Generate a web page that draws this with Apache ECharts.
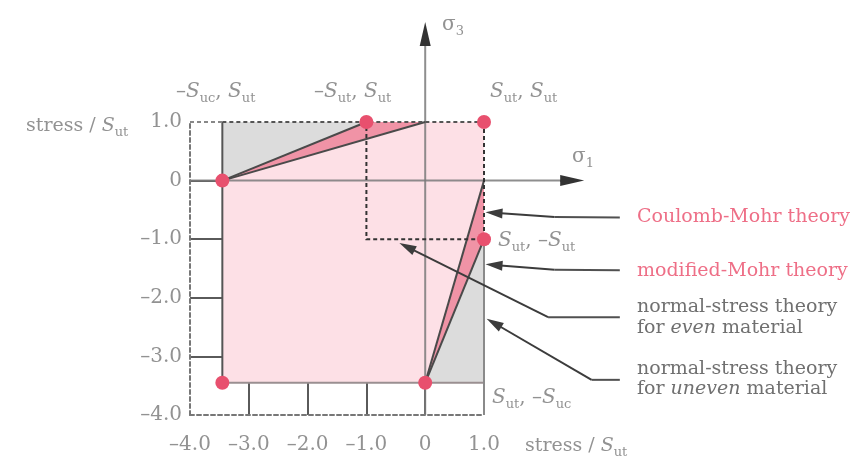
<!DOCTYPE html>
<html><head><meta charset="utf-8">
<script src="https://cdn.jsdelivr.net/npm/echarts@6/dist/echarts.min.js"></script>
<style>html,body{margin:0;padding:0;background:#fff}#c{width:864px;height:460px}</style>
</head><body><div id="c"></div>
<script>
// ---- data ----
const xTicks = [-4, -3, -2, -1, 0, 1];
const xTickLabels = ['–4.0', '–3.0', '–2.0', '–1.0', '0', '1.0'];
const yTicks = [-4, -3, -2, -1, 0, 1];
const yTickLabels = ['–4.0', '–3.0', '–2.0', '–1.0', '0', '1.0'];

// failure envelopes (stress / S_ut), S_uc ≈ 3.45
const coulombMohrRegion = [[-3.45, 0], [0, 1], [1, 1], [1, 0], [0, -3.45], [-3.45, -3.45]];
const modMohrSliverTop = [[-3.45, 0], [-1, 1], [0, 1]];
const modMohrSliverBottom = [[0, -3.45], [1, 0], [1, -1]];
const grayTopLeft = [[-3.45, 0], [-3.45, 1], [-1, 1]];
const grayBottomRight = [[0, -3.45], [1, -1], [1, -3.45]];

const coulombMohrLineTop = [[-3.45, 0], [0, 1]];
const coulombMohrLineBottom = [[0, -3.45], [1, 0]];
const modMohrLineTop = [[-3.45, 0], [-1, 1]];
const modMohrLineBottom = [[0, -3.45], [1, -1]];
const unevenLeftEdge = [[-3.45, 1], [-3.45, -3.45]];
const unevenBottomEdge = [[-3.45, -3.45], [1, -3.45]];
const rightEdgeLower = [[1, -1], [1, -4]];
const evenSquareDashed = [[1, 1], [1, -1], [-1, -1], [-1, 1]];
const topBorderDashedLight = [[-4, 1], [-3.45, 1]];
const topBorderDashed = [[-3.45, 1], [1, 1]];

const sigma1Axis = [[-4, 0], [2.5, 0]];
const sigma3Axis = [[0, -4], [0, 2.5]];
const sigma1Head = [[2.3, 0], [2.5, 0]];
const sigma3Head = [[0, 2.3], [0, 2.5]];

const keyPoints = [[-3.45, 0], [-1, 1], [1, 1], [1, -1], [0, -3.45], [-3.45, -3.45]];

// annotation leader lines: start, bend, arrow head centre
const leaderCM = [[3.31, -0.63], [2.2, -0.62], [1.17, -0.55]];
const leaderMM = [[3.31, -1.53], [2.2, -1.52], [1.17, -1.44]];
const leaderEven = [[3.31, -2.33], [2.09, -2.33], [-0.31, -1.13]];
const leaderUneven = [[3.31, -3.40], [2.83, -3.40], [1.17, -2.43]];

// ---- chart ----
const FONT = 'DejaVu Serif';
const chart = echarts.init(document.getElementById('c'));

function poly(pts, color, z) {
  return {
    type: 'custom', coordinateSystem: 'cartesian2d', data: pts, z: z, silent: true, clip: false,
    renderItem: function (params, api) {
      if (params.dataIndex !== 0) return null;
      return { type: 'polygon', shape: { points: pts.map(function (q) { return api.coord(q); }) },
        style: { fill: color, stroke: null } };
    }
  };
}
function polyline(pts, color, width, type, z, opacity) {
  return {
    type: 'lines', coordinateSystem: 'cartesian2d', polyline: true, clip: false, silent: true, z: z,
    data: [{ coords: pts }],
    lineStyle: { color: color, width: width, type: type || 'solid', opacity: opacity == null ? 1 : opacity, curveness: 0 }
  };
}
function arrowSeg(from, to, color, width, size, z) {
  return {
    type: 'lines', coordinateSystem: 'cartesian2d', clip: false, silent: true, z: z,
    symbol: ['none', 'triangle'], symbolSize: [0, size],
    data: [{ coords: [from, to] }],
    lineStyle: { color: color, width: width, opacity: 1, curveness: 0 }
  };
}
function leader(pts) {
  return [polyline([pts[0], pts[1]], '#505050', 2, 'solid', 8), arrowSeg(pts[1], pts[2], '#3c3c3c', 2, [10, 17], 8)];
}

const series = [
  poly(coulombMohrRegion, '#fde0e6', 2),
  poly(modMohrSliverTop, '#f093a6', 2),
  poly(modMohrSliverBottom, '#f093a6', 2),
  poly(grayTopLeft, '#dcdcdc', 2),
  poly(grayBottomRight, '#dcdcdc', 2),
  polyline(sigma1Axis, '#7a7a7a', 2, 'solid', 3, 0.85),
  polyline(sigma3Axis, '#7a7a7a', 2, 'solid', 3, 0.85),
  arrowSeg(sigma1Head[0], sigma1Head[1], '#333', 2, [11, 24], 3),
  arrowSeg(sigma3Head[0], sigma3Head[1], '#333', 2, [11, 24], 3),
  polyline(unevenLeftEdge, '#555', 2, 'solid', 4),
  polyline(unevenBottomEdge, '#9a8f91', 2, 'solid', 4),
  polyline(rightEdgeLower, '#8a8a8a', 2, 'solid', 4),
  polyline(coulombMohrLineTop, '#4a4a4a', 2, 'solid', 5),
  polyline(coulombMohrLineBottom, '#4a4a4a', 2, 'solid', 5),
  polyline(modMohrLineTop, '#4a4a4a', 2, 'solid', 5),
  polyline(modMohrLineBottom, '#4a4a4a', 2, 'solid', 5),
  polyline(evenSquareDashed, '#333', 2, [4, 3], 5),
  polyline(topBorderDashedLight, '#888', 2, [4, 3], 5),
  polyline(topBorderDashed, '#555', 2, [4, 3], 5),
  {
    type: 'scatter', data: keyPoints, symbolSize: 14, z: 10, clip: false, silent: true,
    itemStyle: { color: '#e8506e', opacity: 1 }
  }
].concat(leader(leaderCM), leader(leaderMM), leader(leaderEven), leader(leaderUneven));

function lab(arr, ticks) { return function (v) { const i = ticks.indexOf(Math.round(v * 100) / 100); return i >= 0 ? arr[i] : ''; }; }

function richSet(color, size) {
  return {
    n: { fontSize: size, fontFamily: FONT, fill: color, lineHeight: 26, verticalAlign: 'middle' },
    i: { fontSize: size, fontFamily: FONT, fontStyle: 'italic', fill: color, lineHeight: 26, verticalAlign: 'middle' },
    sub: { fontSize: 13, fontFamily: FONT, fill: color, lineHeight: 14, verticalAlign: 'bottom' }
  };
}
function txt(x, y, text, color, size) {
  return { type: 'text', x: x, y: y, silent: true, z: 100,
    style: { text: text, rich: richSet(color, size), align: 'left', verticalAlign: 'middle', fontFamily: FONT, fontSize: size, fill: color } };
}
const grey = '#929292', pink = '#ee6f87', darkGrey = '#707070';

chart.setOption({
  animation: false,
  backgroundColor: '#fff',
  grid: { left: 190, right: 380, top: 122, bottom: 45, containLabel: false, outerBoundsMode: 'none' },
  xAxis: {
    type: 'value', min: -4, max: 1, interval: 1,
    axisLine: { show: true, onZero: false, lineStyle: { color: '#777', width: 2, type: [4, 3] } },
    axisTick: { show: false },
    splitLine: { show: true, showMinLine: false, showMaxLine: false, lineStyle: { color: '#5a5a5a', width: 2 } },
    axisLabel: { formatter: lab(xTickLabels, xTicks), color: grey, fontSize: 20, fontFamily: FONT, margin: 20 }
  },
  yAxis: {
    type: 'value', min: -4, max: 1, interval: 1,
    axisLine: { show: true, onZero: false, lineStyle: { color: '#777', width: 2, type: [4, 3] } },
    axisTick: { show: false },
    splitLine: { show: true, showMinLine: false, showMaxLine: false, lineStyle: { color: '#5a5a5a', width: 2 } },
    axisLabel: { formatter: lab(yTickLabels, yTicks), color: grey, fontSize: 20, fontFamily: FONT, margin: 8 }
  },
  series: series,
  graphic: [
    txt(26, 126, 'stress / {i|S}{sub|ut}', grey, 19),
    txt(525, 446, 'stress / {i|S}{sub|ut}', grey, 19),
    txt(442, 25, '{n|σ}{sub|3}', grey, 20),
    txt(572, 157, '{n|σ}{sub|1}', grey, 20),
    txt(176, 92, '{n|–}{i|S}{sub|uc}{n|, }{i|S}{sub|ut}', grey, 20),
    txt(314, 92, '{n|–}{i|S}{sub|ut}{n|, }{i|S}{sub|ut}', grey, 20),
    txt(490, 92, '{i|S}{sub|ut}{n|, }{i|S}{sub|ut}', grey, 20),
    txt(498, 241, '{i|S}{sub|ut}{n|, –}{i|S}{sub|ut}', grey, 20),
    txt(492, 398, '{i|S}{sub|ut}{n|, –}{i|S}{sub|uc}', grey, 20),
    txt(637, 217, '{n|Coulomb-Mohr theory}', pink, 19),
    txt(637, 271, '{n|modified-Mohr theory}', pink, 19),
    txt(637, 307, '{n|normal-stress theory}', darkGrey, 19),
    txt(637, 328, '{n|for }{i|even}{n| material}', darkGrey, 19),
    txt(637, 369, '{n|normal-stress theory}', darkGrey, 19),
    txt(637, 389, '{n|for }{i|uneven}{n| material}', darkGrey, 19)
  ]
});
</script></body></html>
